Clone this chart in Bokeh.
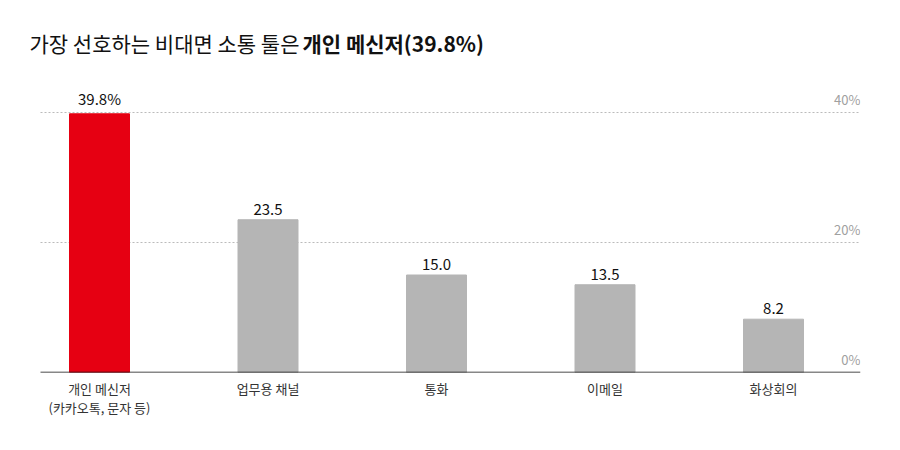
from bokeh.plotting import figure
from bokeh.models import ColumnDataSource, FixedTicker, Range1d
from bokeh.embed import file_html
from bokeh.resources import INLINE
from bokeh.core.properties import value

categories = ["개인 메신저\n(카카오톡, 문자 등)", "업무용 채널", "통화", "이메일", "화상회의"]
values = [39.8, 23.5, 15.0, 13.5, 8.2]
value_labels = ["39.8%", "23.5", "15.0", "13.5", "8.2"]
bar_colors = ["#e60012", "#b5b5b5", "#b5b5b5", "#b5b5b5", "#b5b5b5"]
y_ticks = [0, 20, 40]
y_tick_labels = ["0%", "20%", "40%"]
title_normal = "가장 선호하는 비대면 소통 툴은"
title_bold = "개인 메신저(39.8%)"

FONT = "Noto Sans CJK KR"
xs = list(range(len(categories)))

PX_X = 168.5   # pixels per category
PX_Y = 6.5     # pixels per percent
x0 = (20 - 99) / PX_X
xl = (40 - 99) / PX_X
x1 = (860 - 99) / PX_X
y1 = (372 - 15) / PX_Y

p = figure(width=884, height=434, output_backend="svg", toolbar_location=None,
           x_range=Range1d(x0, x1), y_range=Range1d(0, y1),
           min_border_left=20, min_border_right=24, min_border_top=15, min_border_bottom=62)
p.outline_line_color = None
p.background_fill_color = "white"
p.border_fill_color = "white"

# grid lines (20%, 40%) and baseline (0%)
gsrc = ColumnDataSource(dict(x0=[xl] * 2, x1=[x1] * 2, y=y_ticks[1:]))
p.segment(x0="x0", y0="y", x1="x1", y1="y", source=gsrc, line_color="#bbbbbb",
          line_width=1, line_dash="2 2")

src = ColumnDataSource(dict(x=xs, top=values, color=bar_colors, label=value_labels))
p.vbar(x="x", top="top", width=60 / PX_X, color="color", source=src)
p.text(x="x", y="top", text="label", source=src, text_align="center", text_baseline="bottom",
       y_offset=-5, text_font=value(FONT), text_font_size="15px", text_color="#111111")

p.segment(x0=[xl], y0=[y_ticks[0]], x1=[x1], y1=[y_ticks[0]], line_color="#111111",
          line_width=1.5)

ysrc = ColumnDataSource(dict(x=[x1] * len(y_ticks), y=y_ticks, t=y_tick_labels))
p.text(x="x", y="y", text="t", source=ysrc, text_align="right", text_baseline="bottom",
       y_offset=-4, text_font=value(FONT), text_font_size="13px", text_color="#a0a0a0")

# title, drawn in the upper part of the frame
ty = (372 - 42) / PX_Y
p.text(x=[(29 - 99) / PX_X], y=[ty], text=[title_normal], text_baseline="middle",
       text_font=value(FONT), text_font_size="21px", text_color="#111111")
p.text(x=[(302 - 99) / PX_X], y=[ty], text=[title_bold], text_baseline="middle",
       text_font=value(FONT), text_font_size="21px", text_font_style="bold",
       text_color="#111111")

p.xaxis.ticker = FixedTicker(ticks=xs)
p.xaxis.major_label_overrides = {i: c for i, c in enumerate(categories)}
p.xaxis.major_tick_line_color = None
p.xaxis.minor_tick_line_color = None
p.xaxis.axis_line_color = None
p.xaxis.major_label_text_font = FONT
p.xaxis.major_label_text_font_size = "13px"
p.xaxis.major_label_text_color = "#333333"
p.xaxis.major_label_text_line_height = 1.0
p.xaxis.major_label_standoff = 0
p.yaxis.visible = False
p.xgrid.visible = False
p.ygrid.visible = False

open("out.html", "w").write(file_html(p, INLINE))
